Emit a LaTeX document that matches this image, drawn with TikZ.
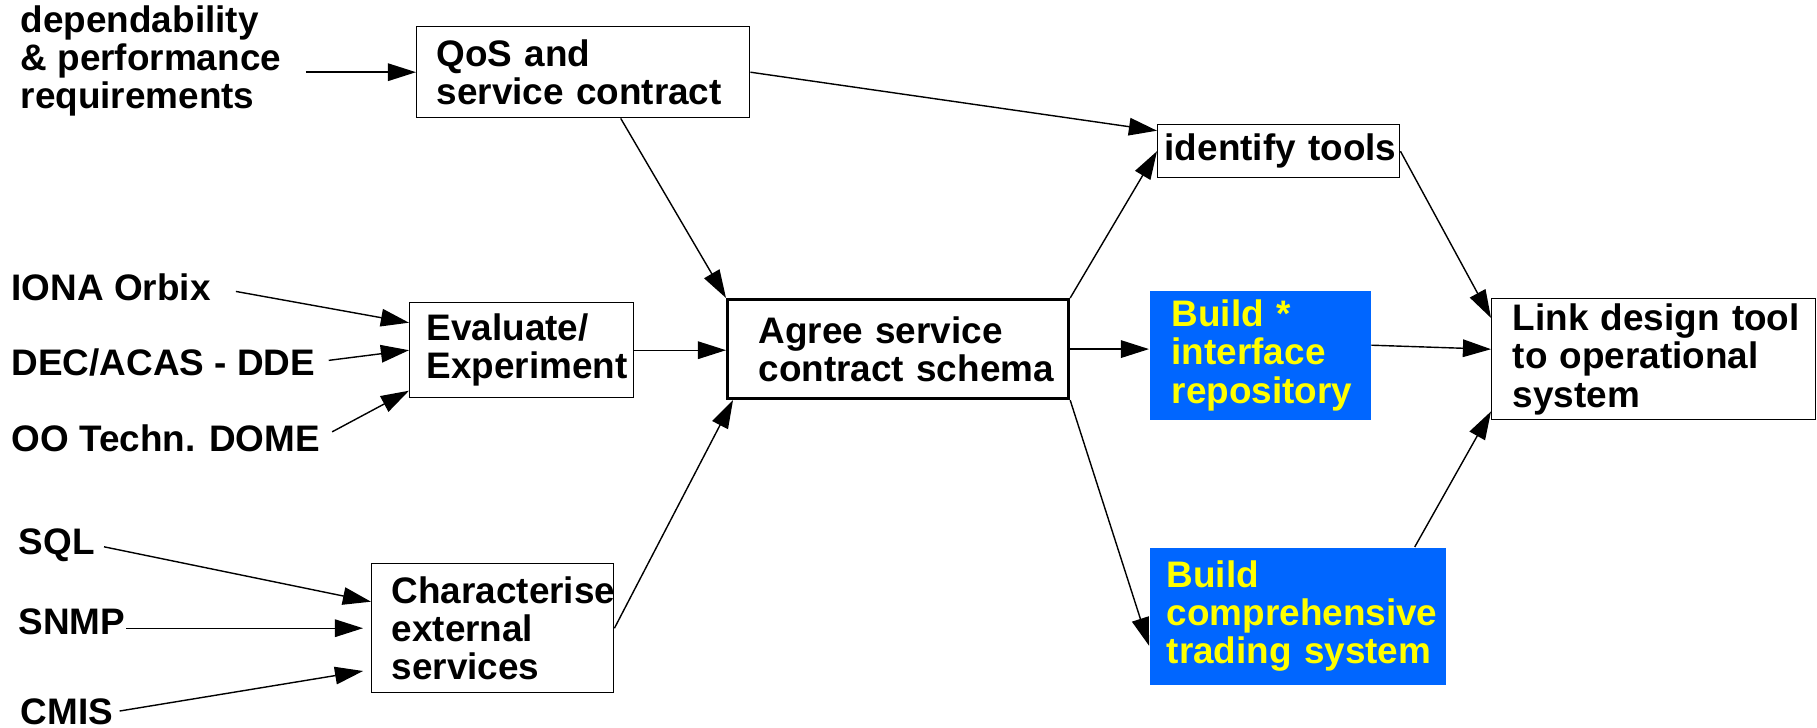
\documentclass[tikz,border=0pt]{standalone}
\usepackage{fontspec}
\setmainfont{Liberation Sans}
\usetikzlibrary{arrows.meta}
\definecolor{bldblue}{HTML}{0066FF}
\definecolor{bldyellow}{HTML}{FFFF00}
\begin{document}
\begin{tikzpicture}[every node/.style={font=\fontsize{10.5}{10.9}\selectfont\bfseries},
  box/.style={draw,line width=0.4pt,anchor=north west,align=left,inner ysep=0pt,
    execute at begin node={\hyphenpenalty=10000}},
  build/.style={box,draw=none,fill=bldblue,text=bldyellow},
  lbl/.style={anchor=west,align=left,inner sep=0pt},
  arr/.style={-{Triangle[length=8pt,width=5pt]},line width=0.4pt}]
  \useasboundingbox (0,0) rectangle (18.17,-7.28);
  \node[lbl] (dep) at (0.20,-0.61) {dependability\\\& performance\\requirements};
  \node[lbl] (iona) at (0.11,-2.87) {IONA Orbix};
  \node[lbl] (dec) at (0.11,-3.62) {DEC/ACAS - DDE};
  \node[lbl] (oo) at (0.11,-4.38) {OO Techn. DOME};
  \node[lbl] (sql) at (0.18,-5.45) {SQL};
  \node[lbl] (snmp) at (0.18,-6.22) {SNMP};
  \node[lbl] (cmis) at (0.20,-7.12) {CMIS};
  \node[box,minimum height=0.91cm,inner xsep=0.20cm,text width=2.93cm] (qos) at (4.16,-0.26) {QoS~and\\service~contract};
  \node[box,minimum height=0.95cm,inner xsep=0.17cm,text width=1.90cm] (eval) at (4.09,-3.02) {Evaluate/\\Experiment};
  \node[box,minimum height=1.29cm,inner xsep=0.20cm,text width=2.02cm] (charact) at (3.71,-5.63) {Characterise\\external\\services};
  \node[box,line width=0.9pt,minimum height=0.99cm,inner xsep=0.31cm,text width=2.79cm] (agree) at (7.26,-2.98) {Agree~service\\contract~schema};
  \node[box,minimum height=0.53cm,inner xsep=0.07cm,text width=2.28cm] (tools) at (11.57,-1.24) {identify~tools};
  \node[build,minimum height=1.29cm,inner xsep=0.22cm,text width=1.77cm] (repo) at (11.49,-2.90) {Build~*\\interface\\repository};
  \node[build,minimum height=1.37cm,inner xsep=0.17cm,text width=2.62cm] (trade) at (11.49,-5.47) {Build\\comprehensive\\trading~system};
  \node[box,minimum height=1.21cm,inner xsep=0.21cm,text width=2.82cm] (link) at (14.91,-2.98) {Link~design~tool\\to~operational\\system};
  \draw[arr,shorten <=0.24cm] (dep.east |- qos.west) -- (qos.west);
  \draw[arr] (qos.east) -- ([yshift=0.205cm]tools.west);
  \draw[arr] ([xshift=0.375cm]qos.south) -- (agree.north west);
  \draw[arr,shorten <=0.25cm] (iona.east) -- ([yshift=0.275cm]eval.west);
  \draw[arr,shorten <=0.13cm] (dec.east) -- (eval.west);
  \draw[arr,shorten <=0.13cm] (oo.east) -- ([yshift=-0.405cm]eval.west);
  \draw[arr] (eval.east) -- (eval.east -| agree.west);
  \draw[arr,shorten <=0.09cm] (sql.east) -- ([yshift=0.265cm]charact.west);
  \draw[arr,shorten >=0.08cm] (snmp.east |- charact.west) -- (charact.west);
  \draw[arr,shorten <=0.06cm,shorten >=0.08cm] (cmis.east) -- ([yshift=-0.415cm]charact.west);
  \draw[arr] (charact.east) -- ([xshift=0.07cm]agree.south west);
  \draw[arr] (agree.north east) -- (tools.west);
  \draw[arr] (agree.east) -- (agree.east -| repo.west);
  \draw[arr] (agree.south east) -- ([yshift=-0.295cm]trade.west);
  \draw[arr] (tools.east) -- ([yshift=-0.2cm]link.north west);
  \draw[arr] ([yshift=0.1cm]repo.east) -- ([yshift=0.1cm]link.west);
  \draw[arr] ([xshift=1.17cm]trade.north) -- ([yshift=0.09cm]link.south west);
\end{tikzpicture}
\end{document}
